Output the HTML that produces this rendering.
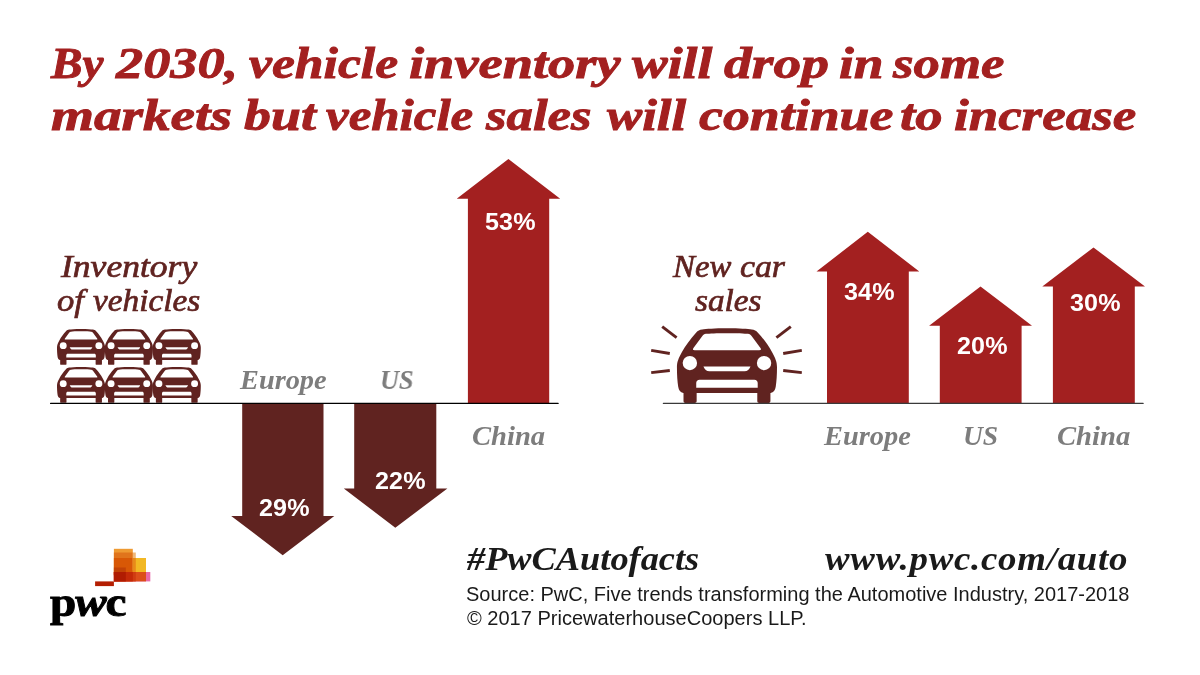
<!DOCTYPE html>
<html>
<head>
<meta charset="utf-8">
<title>PwC Autofacts</title>
<style>
html,body{margin:0;padding:0;background:#fff;}
body{width:1200px;height:675px;position:relative;overflow:hidden;font-family:"Liberation Sans",sans-serif;}
#gfx{position:absolute;left:0;top:0;}
.t{position:absolute;white-space:nowrap;line-height:1;transform-origin:0 0;margin:0;padding:0;will-change:transform;}
.serif{font-family:"Liberation Serif",serif;font-style:italic;}
.sans{font-family:"Liberation Sans",sans-serif;}
.title{font-weight:bold;color:#a32020;font-size:44.5px;-webkit-text-stroke:0.9px #a32020;}
.head{color:#602320;font-size:32px;-webkit-text-stroke:0.7px #602320;}
.lab{color:#7d7d7d;font-weight:bold;font-size:27.5px;}
.pct{color:#fff;font-weight:bold;font-size:24.4px;font-family:"Liberation Sans",sans-serif;transform:scaleX(1.03);letter-spacing:0.1px;}
.tag{color:#1a1a1a;font-weight:bold;font-size:34px;}
.src{color:#1a1a1a;font-size:20px;}
</style>
</head>
<body>
<svg id="gfx" width="1200" height="675" viewBox="0 0 1200 675">
  <defs>
    <g id="car">
      <!-- local coords: 47.7 wide x 35.6 tall -->
      <path fill-rule="evenodd" d="M23.9 -0.2 C18 -0.2 14 0.1 12.2 0.4 C11 0.6 10.2 0.9 9.3 1.9 C6.5 5 4.2 8.3 2.6 11.3 C1 14.3 0.3 16 0.3 18.5 C0.3 22 0.5 25.5 0.9 27.8 C1.2 29.5 1.9 30.6 3.3 30.8 L3.4 30.8 L3.4 34.7 C3.4 35.3 3.7 35.6 4.3 35.6 L8.7 35.6 C9.3 35.6 9.6 35.3 9.6 34.7 L9.6 30.8 L38.2 30.8 L38.2 34.7 C38.2 35.3 38.5 35.6 39.1 35.6 L43.5 35.6 C44.1 35.6 44.4 35.3 44.4 34.7 L44.4 30.8 L44.5 30.8 C45.9 30.6 46.6 29.5 46.9 27.8 C47.3 25.5 47.5 22 47.5 18.5 C47.5 16 46.8 14.3 45.2 11.3 C43.6 8.3 41.3 5 38.5 1.9 C37.6 0.9 36.8 0.6 35.6 0.4 C33.8 0.1 29.8 -0.2 23.9 -0.2 Z
        M23.9 2.15 C19 2.15 15.5 2.3 14 2.45 C13.2 2.55 12.7 2.9 12.2 3.6 L8.1 9.3 C7.6 10 7.9 10.3 8.6 10.3 L39.2 10.3 C39.9 10.3 40.2 10 39.7 9.3 L35.6 3.6 C35.1 2.9 34.6 2.55 33.8 2.45 C32.3 2.3 28.8 2.15 23.9 2.15 Z
        M12.8 18.1 L35 18.1 C34.4 19.5 33.6 20.4 32.2 20.4 L15.6 20.4 C14.2 20.4 13.4 19.5 12.8 18.1 Z
        M11 24.5 C10 24.5 9.4 25.2 9.4 26.1 L9.4 28.35 L38.4 28.35 L38.4 26.1 C38.4 25.2 37.8 24.5 36.8 24.5 Z"/>
<circle cx="6.4" cy="16.5" r="3.4" fill="#fff"/>
<circle cx="41.4" cy="16.5" r="3.4" fill="#fff"/>
    </g>
  </defs>

  <!-- left chart -->
  <g fill="#602320">
    <use href="#car" transform="translate(56.70 329.2) scale(1.019 1)"/>
    <use href="#car" transform="translate(104.55 329.2) scale(1.019 1)"/>
    <use href="#car" transform="translate(152.40 329.2) scale(1.019 1)"/>
    <use href="#car" transform="translate(56.70 367.2) scale(1.019 1)"/>
    <use href="#car" transform="translate(104.55 367.2) scale(1.019 1)"/>
    <use href="#car" transform="translate(152.40 367.2) scale(1.019 1)"/>
  </g>
  <!-- down arrows -->
  <path fill="#602320" d="M242.2 403 L323.5 403 L323.5 515.9 L334.3 515.9 L282.7 555.3 L231.2 515.9 L242.2 515.9 Z"/>
  <path fill="#602320" d="M354.2 403 L436.3 403 L436.3 488.5 L447.4 488.5 L395.3 527.7 L343.8 488.5 L354.2 488.5 Z"/>
  <!-- china up arrow -->
  <path fill="#a32020" d="M467.9 403 L467.9 198.8 L456.7 198.8 L508.4 159 L560.2 198.8 L549.2 198.8 L549.2 403 Z"/>
  <line x1="50.6" y1="403.4" x2="558.1" y2="403.4" stroke="#000" stroke-width="1.3" stroke-linecap="round"/>

  <!-- right chart -->
  <g transform="translate(676.3 328.7) scale(2.12 2.085)" fill="#602320"><use href="#car"/></g>
  <g stroke="#602320" stroke-width="2.9" fill="none">
    <line x1="662.2" y1="326.6" x2="676.6" y2="337.6"/>
    <line x1="651.2" y1="350.4" x2="669.8" y2="353.5"/>
    <line x1="651.2" y1="372.6" x2="669.8" y2="370.5"/>
    <line x1="790.8" y1="326.6" x2="776.4" y2="337.6"/>
    <line x1="801.8" y1="350.4" x2="783.2" y2="353.5"/>
    <line x1="801.8" y1="372.6" x2="783.2" y2="370.5"/>
  </g>
  <path fill="#a32020" d="M827 403 L827 271.5 L816.5 271.5 L867.8 231.8 L919.3 271.5 L908.8 271.5 L908.8 403 Z"/>
  <path fill="#a32020" d="M939.8 403 L939.8 325.8 L929.1 325.8 L980.5 286.5 L1032 325.8 L1021.6 325.8 L1021.6 403 Z"/>
  <path fill="#a32020" d="M1052.9 403 L1052.9 286.5 L1042.3 286.5 L1093.5 247.4 L1145 286.5 L1134.8 286.5 L1134.8 403 Z"/>
  <line x1="663.4" y1="403.4" x2="1143.1" y2="403.4" stroke="#3a3a3a" stroke-width="1.3" stroke-linecap="round"/>

  <!-- pwc logo blocks -->
  <g id="logo">
    <rect x="113.9" y="548.8" width="18.9" height="26" fill="#ee9a32"/>
    <rect x="113.9" y="552.5" width="18.9" height="22" fill="#e0741c"/>
    <rect x="113.9" y="558" width="18.9" height="17" fill="#d85806"/>
    <rect x="113.9" y="567.5" width="11.9" height="8" fill="#c24306"/>
    <rect x="132.8" y="552.5" width="3" height="18" fill="#f0b878"/>
    <rect x="132.6" y="558" width="3.4" height="16" fill="#e88a1a"/>
    <rect x="135.8" y="558" width="10.2" height="16" fill="#f2b824"/>
    <rect x="113.9" y="572" width="36.4" height="9.4" fill="#e868a8"/>
    <rect x="113.9" y="572" width="32.1" height="9.4" fill="#dc4e1a"/>
    <rect x="113.9" y="572" width="21.9" height="9.4" fill="#d03c12"/>
    <rect x="113.9" y="572" width="18.9" height="9.4" fill="#c42a08"/>
    <rect x="113.9" y="572" width="11.9" height="9.4" fill="#b01c02"/>
    <rect x="95.1" y="581.4" width="18.8" height="4.7" fill="#b41e02"/>
  </g>
</svg>

<div id="ta0" class="t serif title" style="left:50.87px;top:41px;transform:scaleX(1.0635);">By</div>
<div id="ta1" class="t serif title" style="left:115.69px;top:41px;transform:scaleX(1.2198);">2030,</div>
<div id="ta2" class="t serif title" style="left:248.90px;top:41px;transform:scaleX(1.1602);">vehicle</div>
<div id="ta3" class="t serif title" style="left:408.63px;top:41px;transform:scaleX(1.2231);">inventory</div>
<div id="ta4" class="t serif title" style="left:631.51px;top:41px;transform:scaleX(1.2022);">will</div>
<div id="ta5" class="t serif title" style="left:723.72px;top:41px;transform:scaleX(1.2484);">drop</div>
<div id="ta6" class="t serif title" style="left:839.36px;top:41px;transform:scaleX(1.2016);">in</div>
<div id="ta7" class="t serif title" style="left:893.38px;top:41px;transform:scaleX(1.1849);">some</div>
<div id="tb0" class="t serif title" style="left:50.54px;top:93px;transform:scaleX(1.2401);">markets</div>
<div id="tb1" class="t serif title" style="left:243.72px;top:93px;transform:scaleX(1.2103);">but</div>
<div id="tb2" class="t serif title" style="left:326.41px;top:93px;transform:scaleX(1.1458);">vehicle</div>
<div id="tb3" class="t serif title" style="left:486.47px;top:93px;transform:scaleX(1.1861);">sales</div>
<div id="tb4" class="t serif title" style="left:607.00px;top:93px;transform:scaleX(1.1846);">will</div>
<div id="tb5" class="t serif title" style="left:698.72px;top:93px;transform:scaleX(1.2097);">continue</div>
<div id="tb6" class="t serif title" style="left:900.07px;top:93px;transform:scaleX(1.2298);">to</div>
<div id="tb7" class="t serif title" style="left:954.49px;top:93px;transform:scaleX(1.1891);">increase</div>

<div id="h1" class="t serif head" style="left:60.64px;top:250px;transform:scaleX(1.1108);">Inventory</div>
<div id="h2" class="t serif head" style="left:57.46px;top:284px;transform:scaleX(1.0822);">of</div>
<div id="h2b" class="t serif head" style="left:92.99px;top:284px;transform:scaleX(1.0401);">vehicles</div>
<div id="h3" class="t serif head" style="left:672.95px;top:250px;transform:scaleX(1.0252);">New</div>
<div id="h3b" class="t serif head" style="left:740.07px;top:250px;transform:scaleX(1.0553);">car</div>
<div id="h4" class="t serif head" style="left:695.01px;top:284px;transform:scaleX(1.0382);">sales</div>

<div id="l1" class="t serif lab" style="left:240.00px;top:366px;transform:scaleX(1.0300);">Europe</div>
<div id="l2" class="t serif lab" style="left:380.09px;top:366px;transform:scaleX(0.9565);">US</div>
<div id="l3" class="t serif lab" style="left:471.99px;top:422px;transform:scaleX(1.0392);">China</div>
<div id="l4" class="t serif lab" style="left:824.00px;top:422px;transform:scaleX(1.0324);">Europe</div>
<div id="l5" class="t serif lab" style="left:962.71px;top:422px;transform:scaleX(0.9884);">US</div>
<div id="l6" class="t serif lab" style="left:1057.00px;top:422px;transform:scaleX(1.0422);">China</div>

<div id="p1" class="t pct" style="left:484.9px;top:210px;">53%</div>
<div id="p2" class="t pct" style="left:259.4px;top:496px;">29%</div>
<div id="p3" class="t pct" style="left:375.4px;top:469px;">22%</div>
<div id="p4" class="t pct" style="left:844px;top:280px;">34%</div>
<div id="p5" class="t pct" style="left:957.2px;top:334px;">20%</div>
<div id="p6" class="t pct" style="left:1070px;top:291px;">30%</div>

<div id="g1" class="t serif tag" style="left:467.40px;top:542px;transform:scaleX(1.0688);">#PwCAutofacts</div>
<div id="g2" class="t serif tag" style="left:825.00px;top:542px;letter-spacing:0.67px;transform:scaleX(1.0843);">www.pwc.com/auto</div>
<div id="s1" class="t sans src" style="left:466.00px;top:583px;transform:scaleX(1.0003) scaleY(1.035);">Source: PwC, Five trends transforming the Automotive Industry, 2017-2018</div>
<div id="s2" class="t sans src" style="left:466.50px;top:607px;transform:scaleX(1.0018) scaleY(1.035);">© 2017 PricewaterhouseCoopers LLP.</div>

<div id="pw" class="t" style="left:50.00px;top:581px;font-family:'Liberation Serif',serif;font-weight:bold;font-size:42px;color:#000;letter-spacing:-1px;-webkit-text-stroke:0.9px #000;transform:scaleX(1.1239);"><span>p</span><span style="font-style:italic">w</span><span>c</span></div>
</body>
</html>
